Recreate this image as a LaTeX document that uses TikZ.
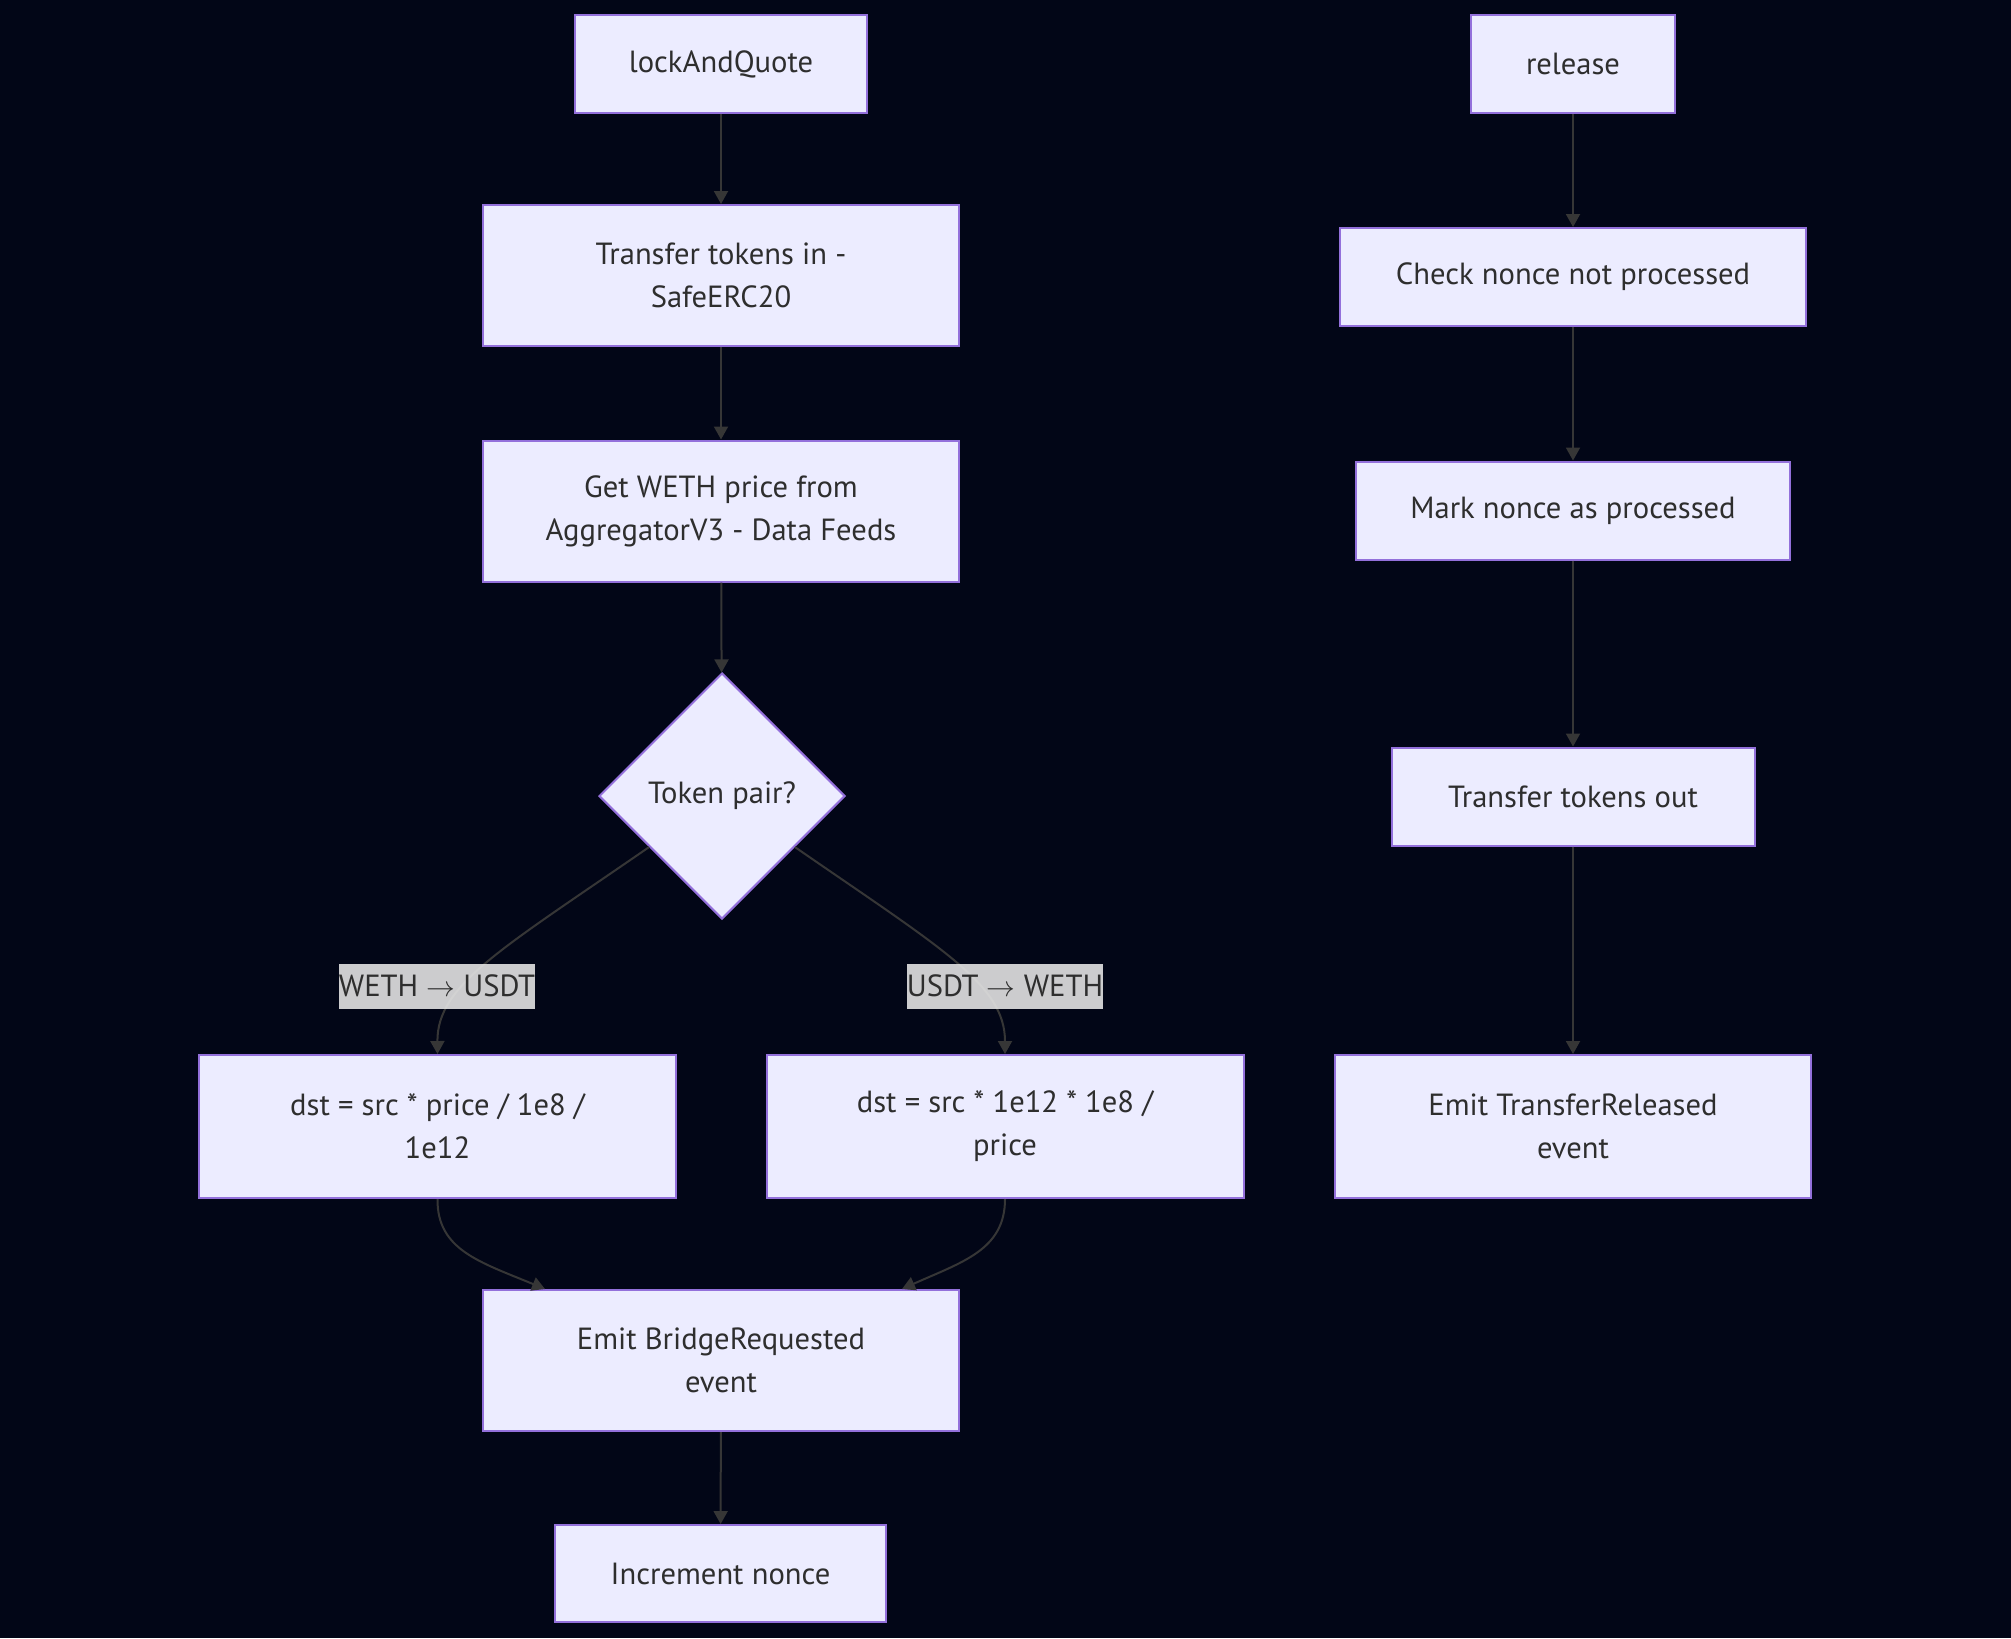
\documentclass[tikz,border=0pt]{standalone}
\usepackage{fontspec}
\setmainfont{PT Sans}
\usetikzlibrary{shapes.geometric,arrows.meta,calc}
\definecolor{bg}{HTML}{020617}
\definecolor{nodefill}{HTML}{ECECFF}
\definecolor{nodeline}{HTML}{9370DB}
\definecolor{txt}{HTML}{2E2E2E}
\definecolor{edgec}{HTML}{363636}
\definecolor{lblfill}{HTML}{E8E8E8}
\begin{document}
\begin{tikzpicture}[x=0.5pt,y=-0.5pt,
  box/.style={draw=nodeline, line width=1pt, fill=nodefill, text=txt,
    font=\fontsize{15.3}{21.5}\selectfont, align=center, inner sep=0pt},
  decision/.style={box, diamond, aspect=1, minimum width=123pt, minimum height=123pt},
  flow/.style={draw=edgec, line width=1pt, -{Triangle[length=6.5pt,width=7pt]}},
  lbl/.style={fill=lblfill, fill opacity=0.88, text opacity=1, text=txt,
    font=\fontsize{15.3}{17}\selectfont, inner xsep=0pt, inner ysep=0pt,
    minimum height=22.5pt}
]
\fill[bg] (0,0) rectangle (2011,1638);
\useasboundingbox (0,0) rectangle (2011,1638);

% left column
\node[box, minimum width=146pt, minimum height=49pt] (lq) at (721,64) {lockAndQuote};
\node[box, minimum width=238pt, minimum height=70.5pt] (ti) at (721,275.5) {Transfer tokens in -\\SafeERC20};
\node[box, minimum width=238pt, minimum height=70.5pt] (gp) at (721,511) {Get WETH price from\\AggregatorV3 - Data Feeds};
\node[decision] (tp) at (722,796) {Token pair?};
\node[box, minimum width=238.5pt, minimum height=71.5pt] (dl) at (437.5,1126.5) {dst = src * price / 1e8 /\\1e12};
\node[box, minimum width=238.5pt, minimum height=71.5pt] (dr) at (1005,1126.5) {dst = src * 1e12 * 1e8 /\\price};
\node[box, minimum width=238pt, minimum height=70.5pt] (eb) at (721,1360.5) {Emit BridgeRequested\\event};
\node[box, minimum width=165.5pt, minimum height=48.5pt] (in) at (720.5,1573.5) {Increment nonce};

% right column
\node[box, minimum width=102pt, minimum height=49pt] (rl) at (1573,64) {release};
\node[box, minimum width=233pt, minimum height=49pt] (cn) at (1573,277) {Check nonce not processed};
\node[box, minimum width=217pt, minimum height=49pt] (mn) at (1573,510.5) {Mark nonce as processed};
\node[box, minimum width=181.5pt, minimum height=49pt] (to) at (1573,796.5) {Transfer tokens out};
\node[box, minimum width=238pt, minimum height=71.5pt] (er) at (1573,1126.5) {Emit TransferReleased\\event};

% edges left
\draw[flow] (lq) -- (ti);
\draw[flow] (ti) -- (gp);
\draw[flow] (gp) -- (tp);
\draw[flow] (tp.215) .. controls (500,950) and (437,985) .. (dl.north);
\draw[flow] (tp.-35) .. controls (944,950) and (1005,985) .. (dr.north);
\draw[flow] (dl.south) .. controls (437,1250) and (480,1262) .. ($(eb.north)+(-176,0)$);
\draw[flow] (dr.south) .. controls (1005,1250) and (962,1262) .. ($(eb.north)+(181,0)$);
\draw[flow] (eb) -- (in);

% edges right
\draw[flow] (rl) -- (cn);
\draw[flow] (cn) -- (mn);
\draw[flow] (mn) -- (to);
\draw[flow] (to) -- (er);

% edge labels
\node[lbl] (l1) at (437,986) {WETH $\rightarrow$ USDT};
\node[lbl] (l2) at (1005,986) {USDT $\rightarrow$ WETH};
\end{tikzpicture}
\end{document}
